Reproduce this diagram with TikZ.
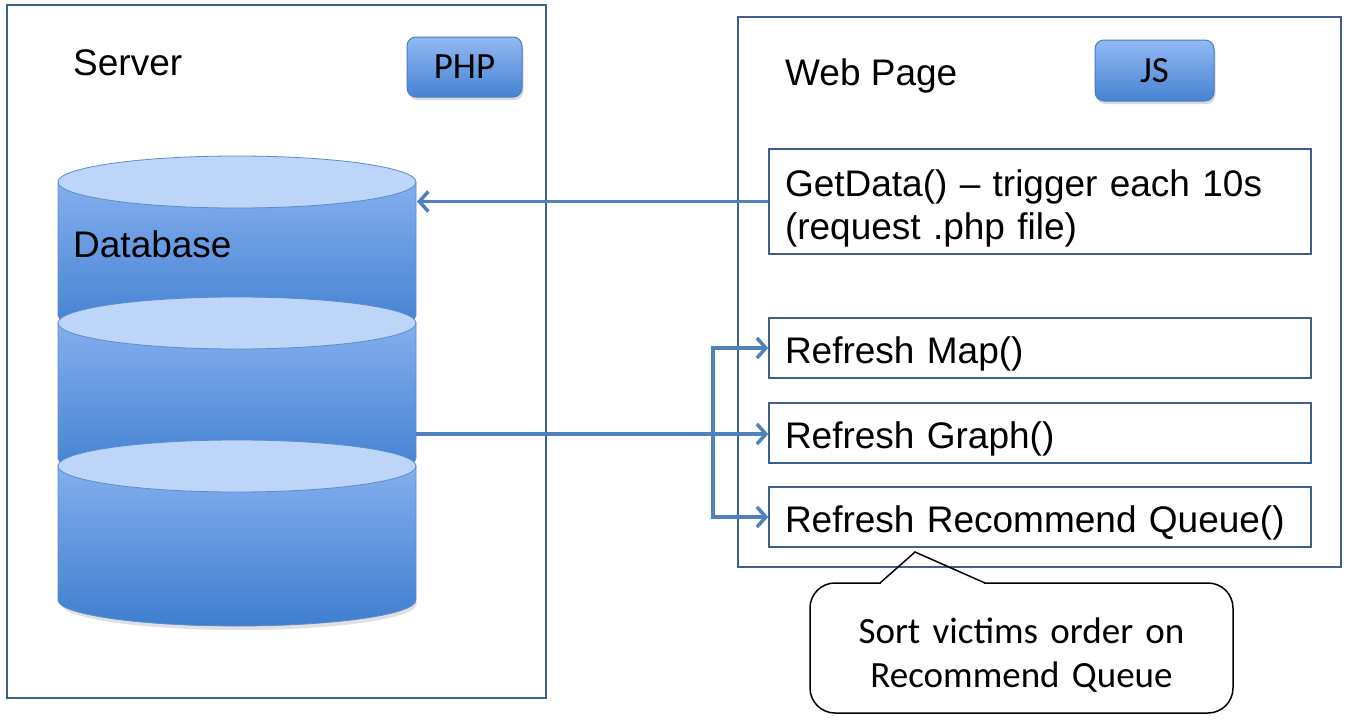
\documentclass[tikz,border=0pt]{standalone}
\usepackage{fontspec}
\setmainfont{Liberation Sans}
\newfontfamily\calibri{Carlito}
\usetikzlibrary{arrows.meta,shadows}
\definecolor{panelline}{HTML}{3B5F8E}
\definecolor{arrowblue}{HTML}{4F81BD}
\definecolor{cyltop}{HTML}{84AEEE}
\definecolor{cylbot}{HTML}{3F7ECF}
\definecolor{ellfill}{HTML}{BDD5F8}
\definecolor{elldraw}{HTML}{5B8CCB}
\definecolor{btntop}{HTML}{92B9F3}
\definecolor{btnbot}{HTML}{4682D2}
\definecolor{btnline}{HTML}{4A7EBB}
\begin{document}
\begin{tikzpicture}[x=1pt,y=-1pt,
  panel/.style={draw=panelline,line width=1.8pt,inner sep=0pt},
  fnbox/.style={draw=panelline,line width=1.5pt,text width=510pt,inner xsep=16pt,align=left,
    font=\fontsize{37}{43}\selectfont},
  oneline/.style={minimum height=60pt,text height=35pt,text depth=4pt},
  btn/.style={rounded corners=9pt,draw=btnline,line width=1pt,top color=btntop,bottom color=btnbot,
    font=\calibri\fontsize{37}{40}\selectfont,
    drop shadow={opacity=0.3,shadow xshift=1.5pt,shadow yshift=-3pt}},
  lbl/.style={anchor=base west,inner sep=0pt,font=\fontsize{37}{43}\selectfont},
  arr/.style={draw=arrowblue,line width=3.5pt,->,line join=miter},
  arrboth/.style={draw=arrowblue,line width=3.5pt,<->,line join=miter},
  >={Straight Barb[length=9pt,width=20pt]},
  calloutbox/.style={draw=black,line width=1.5pt,fill=white,rounded corners=25pt,
    text width=400pt,inner xsep=11.5pt,minimum height=130pt,align=center,
    text height=40pt,text depth=50pt,
    font=\calibri\fontsize{37}{44}\selectfont}
]
\useasboundingbox (0,0) rectangle (1349,726);

% panels
\node[panel,minimum width=539pt,minimum height=693pt] (server) at (276.5,351.5) {};
\node[panel,minimum width=603pt,minimum height=550pt] (web) at (1039.5,292) {};

% labels
\node[lbl] (serverlbl) at (73,75.5) {Server};
\node[lbl] (weblbl) at (785,85.5) {Web Page};

% buttons
\node[btn,minimum width=115pt,minimum height=60pt] (php) at (464.5,67) {PHP};
\node[btn,minimum width=119pt,minimum height=61pt] (js) at (1154.5,70.5) {JS};

% database cylinders
\fill[black,opacity=0.12] (239,604) ellipse[x radius=178,y radius=26];
\foreach \yc/\yb in {182/315,323/458,466/600}{
  \shade[top color=cyltop,bottom color=cylbot,draw=elldraw,line width=0.8pt]
    (58,\yc) -- (58,\yb) arc[start angle=180,end angle=0,x radius=179,y radius=26] -- (416,\yc) -- cycle;
  \filldraw[fill=ellfill,draw=elldraw,line width=0.8pt] (237,\yc) ellipse[x radius=179,y radius=26];
}
\node[lbl] (dblbl) at (73,257.5) {Database};

% function boxes
\node[fnbox,minimum height=105pt,text height=40pt,text depth=50pt] (getdata) at (1040,201.5)
  {GetData() – trigger each 10s\\(request .php file)};
\node[fnbox,oneline] (map) at (1040,348) {Refresh Map()};
\node[fnbox,oneline] (graph) at (1040,433) {Refresh Graph()};
\node[fnbox,oneline] (rq) at (1040,517) {Refresh Recommend Queue()};

% connectors
\coordinate (db1e) at (417,203);
\coordinate (db2e) at (416,434);
\coordinate (jx) at (713,434);
\draw[arr] (getdata.west) -- (getdata.west -| db1e);
\draw[arr] (db2e) -- (db2e -| graph.west);
\draw[arrboth] (map.west) -- (map.west -| jx) -- (rq.west -| jx) -- (rq.west);

% callout
\node[calloutbox] (co) at (1021.5,648) {Sort victims order on\\Recommend Queue};
\fill[white] (881,581) rectangle (984,585);
\draw[black,line width=1.5pt,line join=miter] (880,583) -- (915,552) -- (985,583);
\end{tikzpicture}
\end{document}
